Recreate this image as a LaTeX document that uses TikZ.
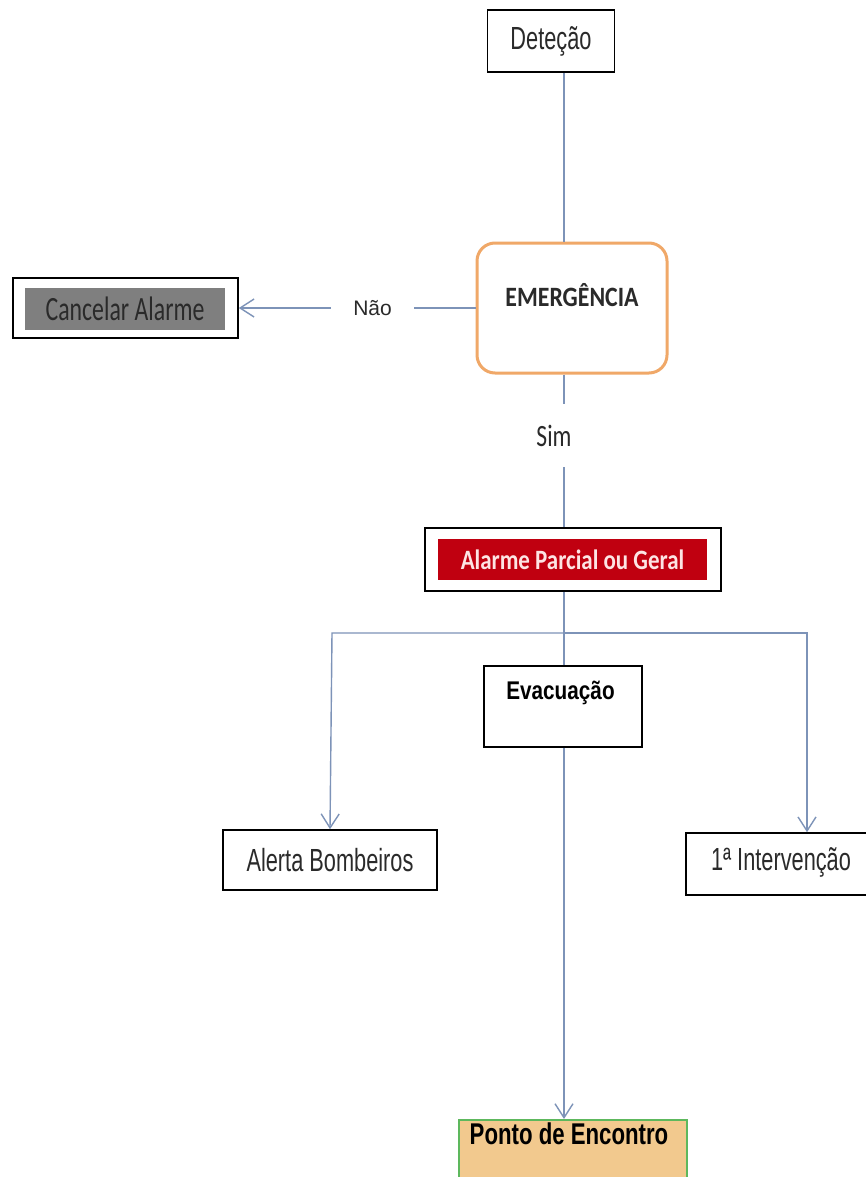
\documentclass[tikz,border=0pt]{standalone}
\usepackage{fontspec}
\usetikzlibrary{arrows.meta}
\newfontfamily\arN[FakeStretch=0.68]{Liberation Sans}
\newfontfamily\arB[FakeStretch=0.81]{Liberation Sans}
\newfontfamily\arP[FakeStretch=0.74]{Liberation Sans}
\newfontfamily\arR{Liberation Sans}
\newfontfamily\calC[FakeStretch=0.70]{Carlito}
\newfontfamily\calE[FakeStretch=0.85]{Carlito}
\newfontfamily\calS[FakeStretch=0.76]{Carlito}
\newfontfamily\calA[FakeStretch=0.82]{Carlito}
\definecolor{connc}{HTML}{7D93B8}
\definecolor{orng}{HTML}{F0A868}
\definecolor{redf}{HTML}{C00010}
\definecolor{grayf}{HTML}{7F7F7F}
\definecolor{tanf}{HTML}{F2C98E}
\definecolor{grn}{HTML}{5DB85D}
\definecolor{txt}{HTML}{2A2A2A}
\definecolor{pinkt}{HTML}{FDE4E4}
\tikzset{
  box/.style={draw=black, line width=1.6pt, inner sep=0pt, text=txt},
  link/.style={draw=connc, line width=1.4pt},
  arr/.style={link, -{Straight Barb[length=14pt,width=18pt,line width=1.4pt]}},
  plain/.style={inner sep=0pt, text=txt}
}
\begin{document}
\begin{tikzpicture}[x=1pt,y=-1pt]
\useasboundingbox (0,0) rectangle (866,1177);
\fill[white] (0,0) rectangle (866,1177);
\clip (0,0) rectangle (866,1177);
% nodes
\node[box, minimum width=127pt, minimum height=62pt] (det) at (551,41) {\arN\fontsize{32}{36}\selectfont Deteção};
\node[draw=orng, line width=3pt, rounded corners=18pt, minimum width=190pt, minimum height=130pt] (emg) at (572,308) {};
\node[plain] (emgt) at (572,295) {\calE\bfseries\fontsize{28}{32}\selectfont EMERGÊNCIA};
\node[box, minimum width=225pt, minimum height=60pt] (cano) at (125.5,308) {};
\node[fill=grayf, minimum width=200pt, minimum height=42pt, inner sep=0pt, text=txt] (cani) at (125,309) {\calC\fontsize{34}{38}\selectfont Cancelar Alarme};
\node[box, minimum width=296pt, minimum height=63pt] (alo) at (573,559.5) {};
\node[fill=redf, minimum width=269pt, minimum height=41pt, inner sep=0pt, text=pinkt] (ali) at (572.5,559.5) {\calA\bfseries\fontsize{28}{32}\selectfont Alarme Parcial ou Geral};
\node[box, minimum width=158pt, minimum height=81pt] (eva) at (563,706.5) {};
\node[plain, text=black] (evat) at (560.5,693) {\arB\bfseries\fontsize{25.6}{29}\selectfont Evacuação};
\node[box, minimum width=214pt, minimum height=60pt] (ale) at (330,860) {\arN\fontsize{32}{36}\selectfont Alerta Bombeiros};
\node[box, minimum width=242pt, minimum height=62pt] (int) at (807,864) {};
\node[plain] (intt) at (781,862) {\arN\fontsize{32}{36}\selectfont 1ª Intervenção};
\node[draw=grn, line width=2pt, fill=tanf, minimum width=228pt, minimum height=90pt, anchor=north] (pto) at (573,1119) {};
\node[plain, text=black] (ptot) at (569,1134) {\arP\bfseries\fontsize{30}{34}\selectfont Ponto de Encontro};
% connectors
\coordinate (j) at (564,633);
\coordinate (jl) at (332,633);
\coordinate (jr) at (807,633);
\draw[link] (det.south -| j) -- (emg.north -| j);
\draw[arr] (emg.west) -- node[pos=0.435, fill=white, inner xsep=22pt, inner ysep=4pt, text=txt] (nao) {\arR\fontsize{21}{24}\selectfont Não} (cano.east);
\draw[link] (emg.south -| j) -- node[pos=0.40, xshift=-10pt, fill=white, inner xsep=2pt, inner ysep=21pt, text=txt] (sim) {\calS\fontsize{31}{34}\selectfont Sim} (alo.north -| j);
\draw[link] (alo.south -| j) -- (j);
\draw[link] (j) -- (eva.north -| j);
\draw[arr] (j) -- (jl) -- (ale.north);
\draw[arr] (j) -- (jr) -- (int.north);
\draw[arr] (eva.south -| j) -- (pto.north -| j);
\end{tikzpicture}
\end{document}
